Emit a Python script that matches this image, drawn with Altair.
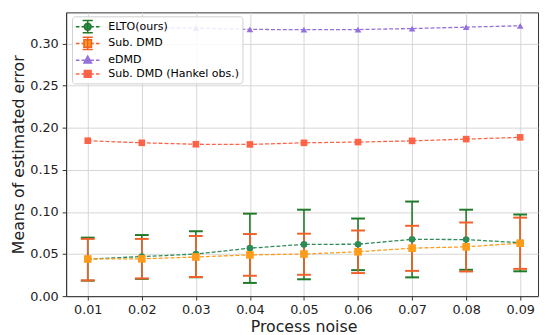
import altair as alt
import pandas as pd

# ---- data ----
noise = [0.01, 0.02, 0.03, 0.04, 0.05, 0.06, 0.07, 0.08, 0.09]

elto_mean = [0.044, 0.047, 0.050, 0.057, 0.0615, 0.0617, 0.0675, 0.0672, 0.0635]
elto_lo = [0.0184, 0.0205, 0.0225, 0.0157, 0.0200, 0.0309, 0.0223, 0.0313, 0.0295]
elto_hi = [0.0695, 0.0726, 0.0770, 0.0980, 0.1027, 0.0922, 0.1124, 0.1027, 0.0970]

sub_mean = [0.0441, 0.0443, 0.0465, 0.0490, 0.0500, 0.0527, 0.0570, 0.0586, 0.0629]
sub_lo = [0.0187, 0.0210, 0.0227, 0.0242, 0.0254, 0.0274, 0.0300, 0.0293, 0.0324]
sub_hi = [0.0680, 0.0680, 0.0714, 0.0738, 0.0742, 0.0780, 0.0836, 0.0875, 0.0933]

edmd = [0.3205, 0.3190, 0.3185, 0.3170, 0.3166, 0.3168, 0.3180, 0.3197, 0.3213]
hankel = [0.1847, 0.1822, 0.1805, 0.1803, 0.1822, 0.1831, 0.1845, 0.1866, 0.1887]

series_names = ["ELTO(ours)", "Sub. DMD", "eDMD", "Sub. DMD (Hankel obs.)"]

y_ticks = [0.0, 0.05, 0.10, 0.15, 0.20, 0.25, 0.30]

# ---- styling ----
GREEN = "#2e8b57"
GREEN_ERR = "#1f7a27"
ORANGE = "#ff9c1a"
ORANGE_ERR = "#f2602a"
PURPLE = "#9370db"
TOMATO = "#ff6347"
FONT = "DejaVu Sans"

x_scale = alt.Scale(domain=[0.006, 0.0933], nice=False, zero=False)
y_scale = alt.Scale(domain=[0, 0.3372], nice=False, zero=False)

x_axis = alt.Axis(values=noise, format=".2f", title="Process noise", titleX=241)
y_axis = alt.Axis(values=y_ticks, format=".2f", title="Means of estimated error")


def X():
    return alt.X("x:Q", scale=x_scale, axis=x_axis)


def Y(field="y"):
    return alt.Y(f"{field}:Q", scale=y_scale, axis=y_axis)


def df_err(mean, lo, hi):
    return pd.DataFrame({"x": noise, "y": mean, "lo": lo, "hi": hi})


def df_line(vals):
    return pd.DataFrame({"x": noise, "y": vals})


def errbars(df, color):
    rule = alt.Chart(df).mark_rule(color=color, strokeWidth=1.6).encode(
        x=X(), y=Y("lo"), y2="hi:Q"
    )
    cap_lo = alt.Chart(df).mark_tick(
        color=color, orient="horizontal", size=14, thickness=2, opacity=1
    ).encode(x=X(), y=Y("lo"))
    cap_hi = alt.Chart(df).mark_tick(
        color=color, orient="horizontal", size=14, thickness=2, opacity=1
    ).encode(x=X(), y=Y("hi"))
    return rule + cap_lo + cap_hi


def dashed(df, color, shape, size):
    line = alt.Chart(df).mark_line(
        color=color, strokeDash=[4, 2], strokeWidth=1.3
    ).encode(x=X(), y=Y())
    pts = alt.Chart(df).mark_point(
        filled=True, shape=shape, size=size, color=color, opacity=1
    ).encode(x=X(), y=Y())
    return line + pts


elto_df = df_err(elto_mean, elto_lo, elto_hi)
sub_df = df_err(sub_mean, sub_lo, sub_hi)

# ---- legend (symbols built as custom paths) ----
DASH = "M-1.82,0H-1.27M-0.95,0H-0.4M0.4,0H0.95M1.27,0H1.82"
ERR = "M0,-0.95V0.95M-0.78,-0.95H0.78M-0.78,0.95H0.78"
CIRCLE = "M0.53,0A0.53,0.53 0 1,1 -0.53,0A0.53,0.53 0 1,1 0.53,0Z"
SQ_BIG = "M-0.58,-0.58H0.58V0.58H-0.58Z"
TRI = "M0,-0.62L0.58,0.44L-0.58,0.44Z"
SQ = "M-0.52,-0.52H0.52V0.52H-0.52Z"
legend_shapes = [DASH + ERR + CIRCLE, DASH + ERR + SQ_BIG, DASH + TRI, DASH + SQ]

legend_df = pd.DataFrame({"x": [noise[0]] * 4, "y": [0.0] * 4, "series": series_names})
legend = alt.Legend(
    title=None,
    orient="none",
    legendX=6,
    legendY=4,
    symbolSize=174,
    symbolStrokeWidth=1.5,
    symbolOpacity=1,
    symbolOffset=5.4,
    labelOffset=13.4,
    labelFontSize=11.2,
    labelFont=FONT,
    labelColor="black",
    labelLimit=300,
    padding=3,
    rowPadding=-2,
    fillColor="rgba(255,255,255,0.85)",
    strokeColor="#d0d0d0",
    cornerRadius=3,
)
legend_layer = alt.Chart(legend_df).mark_point(filled=True, size=0, opacity=1).encode(
    x=X(),
    y=Y(),
    fill=alt.Fill("series:N", scale=alt.Scale(domain=series_names, range=[GREEN, ORANGE, PURPLE, TOMATO]), legend=legend),
    stroke=alt.Stroke("series:N", scale=alt.Scale(domain=series_names, range=[GREEN_ERR, ORANGE_ERR, PURPLE, TOMATO]), legend=legend),
    shape=alt.Shape("series:N", scale=alt.Scale(domain=series_names, range=legend_shapes), legend=legend),
)

chart = alt.layer(
    errbars(elto_df, GREEN_ERR),
    errbars(sub_df, ORANGE_ERR),
    dashed(elto_df, GREEN, "circle", 45),
    dashed(sub_df, ORANGE, "square", 60),
    dashed(df_line(edmd), PURPLE, "triangle-up", 45),
    dashed(df_line(hankel), TOMATO, "square", 45),
    legend_layer,
).properties(
    width=479,
    height=288,
    autosize=alt.AutoSizeParams(type="none"),
    padding={"left": 59, "top": 2, "right": 2, "bottom": 37},
).configure_view(
    stroke="#333333", strokeWidth=1
).configure_axis(
    labelFont=FONT,
    titleFont=FONT,
    labelFontSize=13,
    titleFontSize=16,
    titleFontWeight="normal",
    labelColor="#222222",
    titleColor="#222222",
    grid=True,
    gridColor="#d6d6d6",
    gridWidth=1,
    domainColor="#333333",
    tickColor="#333333",
    tickSize=4,
    labelPadding=4,
).configure_axisX(
    titlePadding=2,
).configure_axisY(
    titlePadding=3,
)

chart.save("out.html", embed_options={"renderer": "svg", "actions": False})
